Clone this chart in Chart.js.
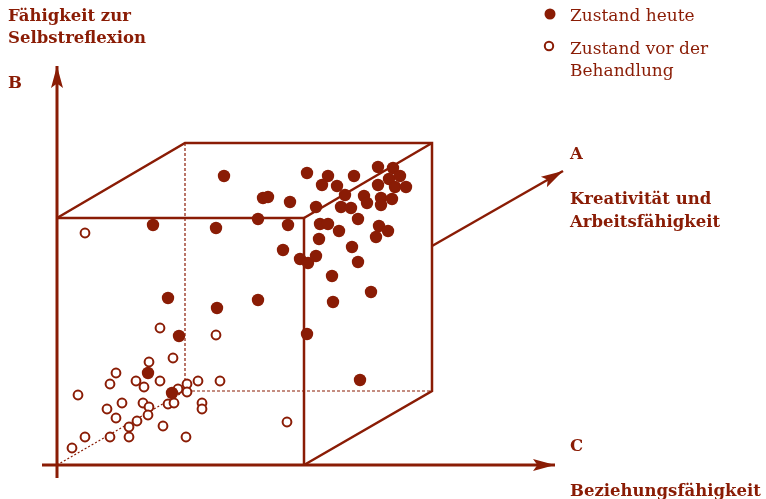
<!DOCTYPE html>
<html>
<head>
<meta charset="utf-8">
<script src="https://cdn.jsdelivr.net/npm/chart.js@4/dist/chart.umd.min.js"></script>
<style>
  html, body { margin: 0; padding: 0; background: #fff; }
  #wrap { width: 766px; height: 499px; }
</style>
</head>
<body>
<div id="wrap"><canvas id="c" width="766" height="499"></canvas></div>
<script>
// Punkte: Zustand heute (gefüllt)
const heute = [
  [224,176],[307,173],[328,176],[354,176],[378,167],[393,168],[322,185],[337,186],
  [389,179],[400,176],[378,185],[395,187],[406,187],[263,198],[268,197],[290,202],
  [345,195],[364,196],[367,203],[381,198],[381,205],[392,199],[316,207],[341,207],
  [351,208],[258,219],[288,225],[358,219],[320,224],[328,224],[379,226],[388,231],
  [339,231],[376,237],[319,239],[283,250],[352,247],[300,259],[308,263],[316,256],
  [358,262],[332,276],[258,300],[333,302],[371,292],[153,225],[216,228],[168,298],
  [217,308],[179,336],[307,334],[360,380],[148,373],[172,393]
];
// Punkte: Zustand vor der Behandlung (offen)
const vorher = [
  [85,233],[160,328],[216,335],[287,422],[173,358],[149,362],[116,373],[110,384],
  [136,381],[144,387],[160,381],[178,389],[187,384],[198,381],[220,381],[187,392],
  [78,395],[122,403],[143,403],[149,407],[168,404],[174,403],[202,403],[202,409],
  [107,409],[116,418],[148,415],[137,421],[129,427],[163,426],[85,437],[110,437],
  [129,437],[186,437],[72,448]
];

// Würfel und Achsen (Polylinien)
const achseB = [[57,478],[57,66]];
const achseC = [[42,465],[555,465]];
const achseA = [[432,246],[563,171]];
const vorneOben = [[57,218],[304,218],[304,465]];
const hintenOben = [[57,218],[185,143],[432,143],[432,391],[304,465]];
const kanteRechts = [[304,218],[432,143]];
const hintenVerdeckt = [[185,143],[185,391],[432,391]];
const diagonale = [[57,465],[185,391]];

const rot = '#8a1c05';
const pts = arr => arr.map(([x, y]) => ({ x, y }));

function linie(arr, width, dash) {
  return {
    type: 'line',
    data: pts(arr),
    borderColor: rot,
    borderWidth: width,
    borderDash: dash || [],
    pointRadius: 0,
    fill: false,
    tension: 0,
    order: 2
  };
}

const pfeile = [achseB, achseC, achseA];

const beschriftung = {
  id: 'beschriftung',
  afterDatasetsDraw(chart) {
    const { ctx, scales: { x, y } } = chart;
    ctx.save();
    // Pfeilspitzen
    ctx.fillStyle = rot;
    pfeile.forEach(p => {
      const [x0, y0] = p[p.length - 2], [x1, y1] = p[p.length - 1];
      const ax = x.getPixelForValue(x1), ay = y.getPixelForValue(y1);
      const bx = x.getPixelForValue(x0), by = y.getPixelForValue(y0);
      const ang = Math.atan2(ay - by, ax - bx);
      const len = 22, half = 6;
      ctx.beginPath();
      ctx.moveTo(ax, ay);
      ctx.lineTo(ax - len * Math.cos(ang) - half * Math.sin(ang), ay - len * Math.sin(ang) + half * Math.cos(ang));
      ctx.lineTo(ax - len * 0.8 * Math.cos(ang), ay - len * 0.8 * Math.sin(ang));
      ctx.lineTo(ax - len * Math.cos(ang) + half * Math.sin(ang), ay - len * Math.sin(ang) - half * Math.cos(ang));
      ctx.closePath();
      ctx.fill();
    });

    // Texte
    ctx.textBaseline = 'alphabetic';
    ctx.textAlign = 'left';
    ctx.font = 'bold 16.5px "DejaVu Serif"';
    [['Fähigkeit zur', 8, 21], ['Selbstreflexion', 8, 43], ['B', 8, 88],
     ['A', 570, 159], ['Kreativität und', 570, 204], ['Arbeitsfähigkeit', 570, 227],
     ['C', 570, 451], ['Beziehungsfähigkeit', 570, 496]].forEach(([t, tx, ty]) => ctx.fillText(t, tx, ty));

    // Legende
    ctx.font = '17px "DejaVu Serif"';
    ctx.fillText('Zustand heute', 570, 21);
    ctx.fillText('Zustand vor der', 570, 54);
    ctx.fillText('Behandlung', 570, 76);
    ctx.beginPath();
    ctx.arc(550, 14, 5.5, 0, Math.PI * 2);
    ctx.fill();
    ctx.beginPath();
    ctx.arc(549, 46, 4.2, 0, Math.PI * 2);
    ctx.lineWidth = 2;
    ctx.strokeStyle = rot;
    ctx.stroke();
    ctx.restore();
  }
};

new Chart(document.getElementById('c'), {
  type: 'scatter',
  data: {
    datasets: [
      {
        label: 'Zustand heute',
        data: pts(heute),
        backgroundColor: rot,
        borderColor: rot,
        borderWidth: 0,
        pointRadius: 6.2,
        order: 1
      },
      {
        label: 'Zustand vor der Behandlung',
        data: pts(vorher),
        backgroundColor: '#fff',
        borderColor: rot,
        borderWidth: 2,
        pointRadius: 4.4,
        order: 1
      },
      linie(achseB, 3),
      linie(achseC, 3),
      linie(achseA, 2.5),
      linie(vorneOben, 2.5),
      linie(hintenOben, 2.5),
      linie(kanteRechts, 2.5),
      linie(hintenVerdeckt, 1.2, [3, 2]),
      linie(diagonale, 1.2, [2, 2])
    ]
  },
  options: {
    responsive: false,
    animation: false,
    layout: { padding: 0, autoPadding: false },
    clip: false,
    scales: {
      x: { type: 'linear', min: 0, max: 766, display: false },
      y: { type: 'linear', min: 0, max: 499, reverse: true, display: false }
    },
    plugins: {
      legend: { display: false },
      tooltip: { enabled: false }
    }
  },
  plugins: [beschriftung]
});
</script>
</body>
</html>
